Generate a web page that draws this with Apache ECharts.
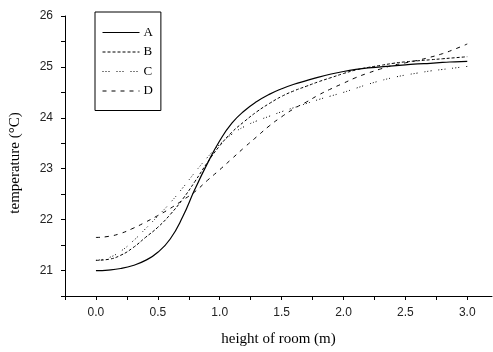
<!DOCTYPE html>
<html>
<head>
<meta charset="utf-8">
<script src="https://cdn.jsdelivr.net/npm/echarts@6/dist/echarts.min.js"></script>
<style>
  html, body { margin: 0; padding: 0; background: #fff; }
  #chart { width: 493px; height: 352px; }
</style>
</head>
<body>
<div id="chart"></div>
<script>
// height of room (m)
const heights = [0.0, 0.1, 0.2, 0.3, 0.4, 0.5, 0.6, 0.7, 0.8, 0.9, 1.0, 1.1, 1.2, 1.3, 1.4, 1.5,
  1.6, 1.7, 1.8, 1.9, 2.0, 2.1, 2.2, 2.3, 2.4, 2.5, 2.6, 2.7, 2.8, 2.9, 3.0];

const tempA = [21.00, 21.01, 21.04, 21.10, 21.20, 21.36, 21.62, 22.05, 22.60, 23.10, 23.55, 23.90, 24.14, 24.32, 24.46, 24.57,
  24.66, 24.73, 24.80, 24.86, 24.91, 24.95, 24.98, 25.00, 25.02, 25.04, 25.06, 25.07, 25.09, 25.10, 25.11];
const tempB = [21.20, 21.22, 21.30, 21.45, 21.65, 21.85, 22.10, 22.40, 22.75, 23.12, 23.45, 23.72, 23.93, 24.12, 24.28, 24.42,
  24.53, 24.62, 24.71, 24.79, 24.87, 24.94, 24.99, 25.03, 25.07, 25.10, 25.12, 25.14, 25.16, 25.18, 25.20];
const tempC = [21.20, 21.25, 21.38, 21.58, 21.82, 22.07, 22.33, 22.62, 22.93, 23.22, 23.48, 23.68, 23.83, 23.94, 24.03, 24.12,
  24.20, 24.28, 24.36, 24.43, 24.50, 24.58, 24.66, 24.73, 24.79, 24.84, 24.88, 24.92, 24.95, 24.98, 25.01];
const tempD = [21.65, 21.67, 21.73, 21.83, 21.95, 22.08, 22.22, 22.38, 22.55, 22.77, 22.98, 23.20, 23.42, 23.63, 23.84, 24.02,
  24.18, 24.31, 24.45, 24.57, 24.68, 24.79, 24.88, 24.96, 25.03, 25.08, 25.13, 25.19, 25.26, 25.35, 25.45];

const seriesNames = ['A', 'B', 'C', 'D'];
const dashTypes = ['solid', [3, 2], [1, 2, 1, 2, 1, 7], [4, 5]];

const chart = echarts.init(document.getElementById('chart'), null, { renderer: 'canvas' });

const axisText = { color: '#222', fontFamily: 'Liberation Sans', fontSize: 12 };
const nameText = { color: '#000', fontFamily: 'Liberation Serif', fontSize: 15 };

const option = {
  backgroundColor: '#fff',
  animation: false,
  grid: { left: 64, right: 1, top: 16, bottom: 55 },
  legend: {
    orient: 'vertical',
    left: 95,
    top: 12,
    data: seriesNames,
    borderColor: '#000',
    borderWidth: 1,
    padding: [14, 8, 13, 7],
    itemWidth: 37,
    itemHeight: 10,
    itemGap: 6.5,
    itemStyle: { opacity: 0 },
    lineStyle: { width: 1 },
    textStyle: { color: '#000', fontFamily: 'Liberation Serif', fontSize: 13, padding: [0, 0, 0, -1] }
  },
  xAxis: {
    type: 'value',
    min: -0.25,
    max: 3.2,
    interval: 0.25,
    name: 'height of room (m)',
    nameLocation: 'middle',
    nameGap: 36,
    nameTextStyle: nameText,
    axisLine: { onZero: false, lineStyle: { color: '#000', width: 1 } },
    axisTick: { inside: false, length: 4, lineStyle: { color: '#000' } },
    axisLabel: Object.assign({
      margin: 11,
      showMaxLabel: false,
      formatter: v => (v >= 0 && Math.abs(v * 2 - Math.round(v * 2)) < 1e-6) ? v.toFixed(1) : ''
    }, axisText),
    splitLine: { show: false }
  },
  yAxis: {
    type: 'value',
    min: 20.5,
    max: 26,
    interval: 0.5,
    name: 'temperature (°C)',
    nameLocation: 'middle',
    nameGap: 42,
    nameTextStyle: Object.assign({ padding: [0, 14, 0, 0] }, nameText),
    axisLine: { show: true, onZero: false, lineStyle: { color: '#000', width: 1 } },
    axisTick: { show: true, length: 4, lineStyle: { color: '#000' } },
    axisLabel: Object.assign({
      margin: 12,
      formatter: v => Number.isInteger(v) ? String(v) : ''
    }, axisText),
    splitLine: { show: false }
  },
  series: [tempA, tempB, tempC, tempD].map((temps, i) => ({
    name: seriesNames[i],
    type: 'line',
    smooth: true,
    symbol: 'none',
    data: heights.map((h, j) => [h, temps[j]]),
    lineStyle: { color: '#000', width: i === 0 ? 1.2 : 1, type: dashTypes[i] },
    itemStyle: { color: '#000' }
  }))
};

chart.setOption(option);
</script>
</body>
</html>
